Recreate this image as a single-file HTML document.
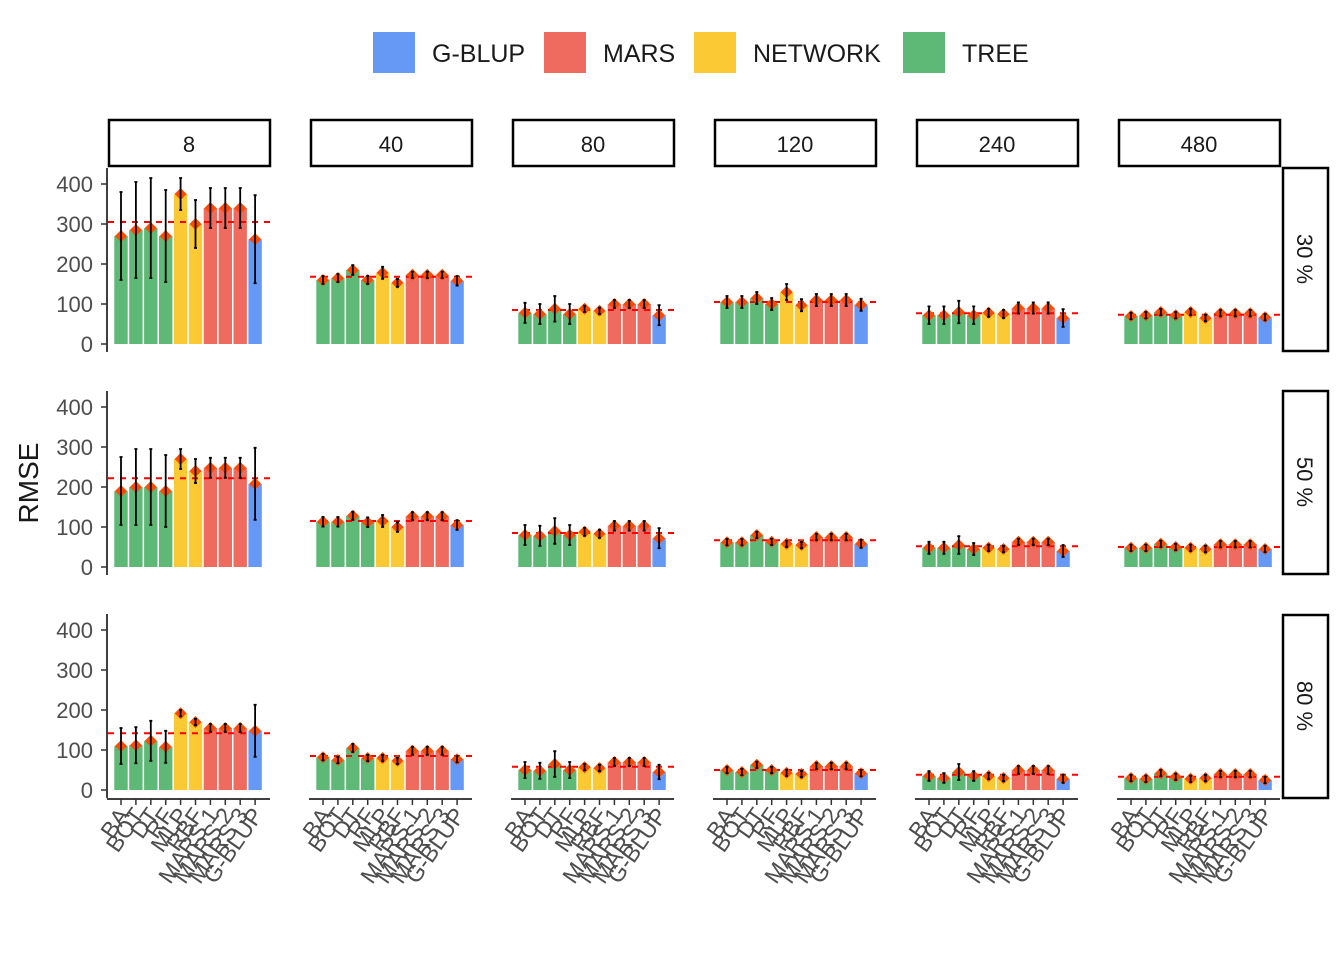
<!DOCTYPE html>
<html><head><meta charset="utf-8"><style>
body{margin:0;background:#fff;}
svg{display:block;font-family:"Liberation Sans",sans-serif;}
</style></head><body>
<svg id="chart" width="1344" height="960" xmlns="http://www.w3.org/2000/svg"></svg>
<script>
const categories=["BA","BOT","DT","RF","MLP","RBF","MARS 1","MARS 2","MARS 3","G-BLUP"];
const groups=["TREE","TREE","TREE","TREE","NETWORK","NETWORK","MARS","MARS","MARS","G-BLUP"];
const colNames=["8","40","80","120","240","480"];
const rowNames=["30 %","50 %","80 %"];
const yTicks=[0,100,200,300,400];
const legendGroups=["G-BLUP","MARS","NETWORK","TREE"];
const row1Values=[[270,285,290,270,375,300,340,340,340,262],[160,165,185,160,178,153,173,173,173,158],[78,75,88,75,88,83,100,100,100,72],[105,105,115,100,130,97,110,110,110,98],[72,72,80,72,78,75,90,90,90,65],[70,72,80,72,80,65,77,77,77,67]];
const row2Values=[[190,200,200,190,270,240,248,248,248,208],[113,113,128,112,115,100,127,127,127,105],[80,78,90,80,88,83,103,103,103,72],[62,62,80,63,58,55,75,75,75,58],[48,48,55,45,48,45,63,63,63,40],[48,48,58,50,48,45,57,57,57,45]];
const row3Values=[[110,112,123,108,192,170,155,155,155,148],[82,75,105,80,80,73,98,98,98,77],[50,48,65,50,57,55,70,70,70,45],[50,45,63,50,43,40,60,60,60,42],[35,30,45,35,35,30,50,50,50,28],[30,28,42,33,28,30,40,40,40,25]];
const row1Err=[[110,120,125,115,40,60,50,50,50,110],[10,10,12,10,15,10,8,8,8,12],[25,25,32,25,8,8,10,10,10,25],[15,15,15,15,20,15,15,15,15,15],[22,22,28,22,10,10,14,14,14,22],[8,8,8,8,8,8,8,8,8,8]];
const row2Err=[[85,95,95,90,25,30,25,25,25,90],[12,12,10,12,15,12,10,10,10,12],[25,25,32,25,10,10,12,12,12,25],[8,8,8,8,8,8,8,8,8,10],[15,15,22,15,8,8,8,8,8,15],[8,8,8,8,8,8,8,8,8,8]];
const row3Err=[[45,45,50,40,8,8,10,10,10,65],[8,8,10,8,8,8,10,10,10,8],[20,20,32,20,8,8,10,10,10,18],[8,8,8,8,8,8,8,8,8,8],[12,12,20,12,8,8,10,10,10,10],[8,8,8,8,8,8,8,8,8,8]];
const row1Mean=[305,168,85,105,77,73];
const row2Mean=[222,115,85,67,52,50];
const row3Mean=[142,85,58,50,38,33];
const rowValues=[row1Values,row2Values,row3Values];
const rowErr=[row1Err,row2Err,row3Err];
const rowMean=[row1Mean,row2Mean,row3Mean];

const colors={"G-BLUP":"#6699f5","MARS":"#ef6b5f","NETWORK":"#fbc933","TREE":"#5db975"};
const NS="http://www.w3.org/2000/svg";
const svg=document.getElementById("chart");
function el(tag,attrs,parent){const e=document.createElementNS(NS,tag);for(const k in attrs)e.setAttribute(k,attrs[k]);(parent||svg).appendChild(e);return e;}
const panelX0=[108,310,512,714,916,1118], panelW=162;
const rowZero=[344,567,790], pxPerUnit=0.4;
function yScale(r,v){return rowZero[r]-v*pxPerUnit;}
function xScale(c,i){return panelX0[c]+13+i*14.9;}

const legX=[373,544,694,903];
legendGroups.forEach((g,i)=>{
  const k=el("rect",{x:legX[i],y:32,width:42,height:41,fill:colors[g]});
  
  
  const t=el("text",{x:legX[i]+59,y:62,"font-size":25,fill:"#1a1a1a"});t.textContent=g;
  
  
});
const yt=el("text",{x:38,y:483,"font-size":28,fill:"#1a1a1a","text-anchor":"middle",transform:"rotate(-90 38 483)"});
yt.textContent="RMSE";


colNames.forEach((n,c)=>{
  const r=el("rect",{x:panelX0[c]+1,y:120,width:panelW-1,height:46,fill:"#fff",stroke:"#000","stroke-width":2.5});
  
  
  const t=el("text",{x:panelX0[c]+81,y:152,"font-size":22,"text-anchor":"middle",fill:"#1a1a1a"});t.textContent=n;
  
  
});
const stripY=[168,391,615];
rowNames.forEach((n,r)=>{
  const s=el("rect",{x:1283,y:stripY[r],width:45,height:183,fill:"#fff",stroke:"#000","stroke-width":2.5});
  
  
  const cy=stripY[r]+91;
  const t=el("text",{x:1297,y:cy,"font-size":22,"text-anchor":"middle",fill:"#1a1a1a",transform:`rotate(90 1297 ${cy})`});t.textContent=n;
  
  
});
for(let r=0;r<3;r++){
  const ax=el("line",{x1:107,x2:107,y1:yScale(r,440),y2:rowZero[r]+8,stroke:"#000","stroke-width":1.5});
  
  
  yTicks.forEach(v=>{
    const y=yScale(r,v);
    const tk=el("line",{x1:101,x2:107,y1:y,y2:y,stroke:"#333","stroke-width":1.5});
    
    
    const t=el("text",{x:93,y:y+8,"font-size":22,"text-anchor":"end",fill:"#4d4d4d"});t.textContent=v;
    
    
  });
}
for(let r=0;r<3;r++)for(let c=0;c<6;c++){
  const g=el("g",{});
  
  
  const vals=rowValues[r][c], errs=rowErr[r][c];
  vals.forEach((v,i)=>{
    const cx=xScale(c,i), y=yScale(r,v);
    const b=el("rect",{x:cx-6.7,y:y,width:13.4,height:rowZero[r]-y,fill:colors[groups[i]]},g);
    
    
  });
  const m=yScale(r,rowMean[r][c]);
  const dl=el("line",{x1:panelX0[c],x2:panelX0[c]+panelW,y1:m,y2:m,stroke:"#ff0000","stroke-width":2,"stroke-dasharray":"6,6"},g);
  
  
  vals.forEach((v,i)=>{
    const cx=xScale(c,i), y=yScale(r,v);
    const d=el("polygon",{points:`${cx},${y-6} ${cx+6},${y} ${cx},${y+6} ${cx-6},${y}`,fill:"#ff4a00"},g);
    
    
    const y1=yScale(r,v+errs[i]), y2=yScale(r,v-errs[i]);
    const e=el("path",{d:`M${cx-1.5},${y1}H${cx+1.5}M${cx},${y1}V${y2}M${cx-1.5},${y2}H${cx+1.5}`,stroke:"#000","stroke-width":1.8,fill:"none"},g);
    
    
  });
  if(r===2){
    const xa=el("line",{x1:panelX0[c]-1,x2:panelX0[c]+panelW,y1:799,y2:799,stroke:"#000","stroke-width":1.5},g);
    
    
    categories.forEach((cat,i)=>{
      const cx=xScale(c,i);
      const tk=el("line",{x1:cx,x2:cx,y1:799,y2:805,stroke:"#333","stroke-width":1.5},g);
      
      
      const t=el("text",{x:cx+9,y:815,"font-size":23,"text-anchor":"end",fill:"#4d4d4d",transform:`rotate(-55 ${cx+9} 815)`},g);t.textContent=cat;
      
      
    });
  }
}
</script>
</body></html>
